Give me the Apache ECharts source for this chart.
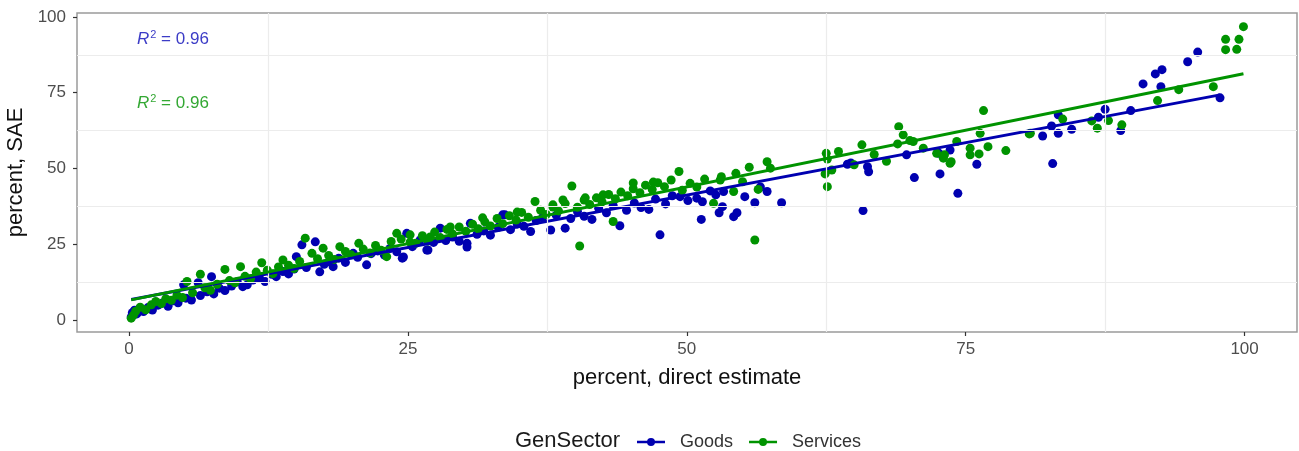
<!DOCTYPE html>
<html>
<head>
<meta charset="utf-8">
<script src="https://cdn.jsdelivr.net/npm/echarts@6/dist/echarts.min.js"></script>
<style>
  html, body { margin: 0; padding: 0; background: #fff; }
  #chart { width: 1299px; height: 451px; }
</style>
</head>
<body>
<div id="chart"></div>
<script>
// Share of establishments: direct survey estimate (x) vs small-area estimate (y), by sector.
const goodsPoints = [
  [0.2,1.0],[0.3,2.4],[0.4,1.8],[0.5,3.2],[0.7,2.0],[0.9,3.6],[1.3,2.8],[1.7,4.1],[2.1,3.3],[2.6,4.9],
  [3.0,5.6],[3.5,4.5],[3.9,6.3],[4.4,5.7],[4.9,11.6],[5.1,7.2],[5.6,6.6],[6.2,12.3],[6.4,8.1],[7.0,9.3],
  [7.4,14.3],[7.6,8.6],[8.1,10.5],[8.6,9.7],[9.2,11.2],[9.7,12.6],[10.2,11.0],[10.6,11.6],[11.1,13.2],[11.7,13.8],
  [12.2,12.7],[12.8,15.1],[13.2,14.3],[13.8,16.0],[14.3,15.2],[14.8,16.8],[15.0,20.9],[15.5,24.8],[15.9,17.3],[16.7,25.8],
  [17.1,15.9],[17.5,18.4],[18.0,19.2],[18.3,17.6],[18.8,20.4],[19.4,19.0],[20.1,22.0],[20.5,20.7],[21.3,18.2],[21.7,21.9],
  [22.3,22.8],[22.9,21.4],[23.4,23.6],[24.0,22.5],[24.5,20.4],[24.6,20.8],[24.9,28.6],[25.4,24.2],[26.1,26.4],[26.7,23.1],
  [26.8,23.1],[27.3,25.6],[27.9,30.3],[28.4,26.2],[29.0,27.4],[29.6,26.0],[30.3,25.3],[30.3,24.1],[30.6,31.9],[31.2,28.3],
  [31.8,29.4],[32.4,28.0],[33.1,30.6],[33.5,34.7],[33.7,34.7],[34.2,29.8],[34.8,31.7],[35.4,30.9],[36.0,29.2],[36.5,32.8],
  [37.1,33.9],[37.8,29.7],[38.3,34.6],[39.1,30.3],[39.6,33.5],[40.2,35.8],[40.8,34.2],[41.5,33.2],[42.1,36.9],[42.8,35.4],
  [43.4,37.8],[44.0,31.1],[44.6,36.2],[45.3,38.6],[45.9,37.1],[46.6,36.5],[47.2,39.9],[47.6,28.1],[48.1,38.3],[48.7,41.0],
  [49.4,40.7],[50.1,39.4],[50.9,40.2],[51.3,33.2],[51.4,39.0],[52.1,42.6],[52.6,41.3],[52.9,35.4],[53.2,37.4],[53.3,42.4],
  [54.2,34.1],[54.5,35.4],[55.2,40.7],[56.1,38.7],[56.6,43.9],[57.2,42.4],[58.5,38.7],[64.4,51.4],[64.7,51.8],[65.8,36.1],
  [66.2,50.6],[66.3,48.9],[69.7,54.5],[70.4,47.0],[72.6,55.0],[72.7,48.2],[73.6,56.1],[74.3,41.8],[76.0,51.4],[81.9,60.7],
  [82.7,64.0],[82.8,51.6],[83.3,67.7],[83.3,61.6],[84.5,62.9],[86.9,66.9],[87.5,69.5],[88.9,62.5],[89.8,69.1],[90.9,77.9],
  [92.0,81.2],[92.5,77.0],[92.6,82.6],[94.9,85.2],[95.8,88.4],[97.8,73.3]
];

const servicesPoints = [
  [0.2,0.6],[0.4,1.6],[0.6,2.9],[1.0,4.2],[1.5,3.4],[2.0,5.0],[2.4,6.1],[2.9,5.4],[3.3,7.0],[3.8,6.5],
  [4.3,8.2],[4.8,7.4],[5.2,12.7],[5.7,9.0],[6.4,15.1],[6.8,10.6],[7.3,9.8],[7.9,11.8],[8.6,16.7],[9.0,13.0],
  [9.5,12.3],[10.0,17.6],[10.4,14.4],[10.9,13.6],[11.4,15.8],[11.9,18.9],[12.4,16.4],[12.9,15.3],[13.4,17.5],[13.8,19.8],
  [14.3,18.1],[14.8,17.0],[15.3,19.3],[15.8,27.0],[16.4,22.0],[16.9,20.2],[17.4,23.7],[17.9,21.3],[18.4,20.0],[18.9,24.2],
  [19.4,22.6],[19.9,21.5],[20.6,25.3],[21.0,23.4],[21.6,22.1],[22.1,24.6],[22.6,23.0],[23.1,20.9],[23.5,25.9],[24.0,28.6],
  [24.4,26.7],[25.2,28.1],[25.2,25.7],[25.7,25.3],[26.3,27.8],[26.8,26.1],[27.0,27.4],[27.4,29.0],[27.9,27.2],[28.5,29.9],
  [28.8,30.7],[29.0,28.4],[29.6,30.7],[30.2,29.3],[30.8,31.6],[31.3,30.1],[31.7,33.7],[31.9,32.4],[32.4,31.0],[33.0,33.5],
  [33.5,31.8],[34.1,34.4],[34.7,33.0],[34.8,35.6],[35.2,35.5],[35.8,33.9],[36.4,39.1],[36.9,36.2],[37.4,34.8],[38.0,37.3],
  [38.0,38.0],[38.5,36.0],[38.9,39.6],[39.1,38.4],[39.7,44.2],[40.2,37.2],[40.4,24.4],[40.8,39.6],[40.9,40.3],[41.3,38.1],
  [41.9,40.3],[42.4,39.0],[42.5,41.3],[43.0,41.4],[43.4,32.5],[43.6,40.0],[44.1,42.2],[44.7,41.0],[45.2,43.3],[45.2,45.2],
  [45.8,42.0],[46.3,44.5],[46.9,43.1],[47.0,45.5],[47.4,45.3],[48.0,44.0],[48.6,46.2],[49.3,49.0],[49.6,42.8],[50.3,45.1],
  [50.9,43.9],[51.6,46.5],[52.4,38.5],[53.0,46.2],[53.1,47.3],[54.2,42.4],[54.4,48.4],[55.0,45.6],[55.6,50.4],[56.1,26.4],
  [56.4,43.1],[57.2,52.2],[57.5,50.1],[62.4,48.2],[62.5,55.0],[62.6,53.1],[62.6,44.0],[63.0,49.5],[63.6,55.6],[65.0,51.2],
  [65.7,57.8],[66.8,54.6],[67.9,52.4],[68.9,58.1],[69.0,63.8],[69.4,61.1],[70.0,59.2],[70.3,58.9],[71.2,56.7],[72.4,55.0],
  [73.0,53.4],[73.1,54.5],[73.6,51.7],[73.7,52.2],[74.2,58.9],[75.4,56.7],[75.4,54.5],[76.2,54.8],[76.3,61.6],[76.6,69.1],
  [77.0,57.2],[78.6,55.9],[80.7,61.4],[80.8,61.6],[83.7,66.3],[86.3,65.7],[86.8,63.3],[87.8,65.8],[89.0,64.4],[92.2,72.4],
  [94.1,76.0],[97.2,77.0],[98.3,92.6],[98.3,89.2],[99.3,89.3],[99.5,92.6],[99.9,96.8]
];

// Linear fits (intercept, slope) and fit quality per sector
const goodsFit = { intercept: 6.6, slope: 0.692 };
const servicesFit = { intercept: 6.5, slope: 0.748 };
const rSquaredLabels = ['0.96', '0.96'];

// Axis ticks and the lighter in-between grid positions
const tickValues = [0, 25, 50, 75, 100];
const gridValues = [12.5, 37.5, 62.5, 87.5];

const sectorNames = ['Goods', 'Services'];
const legendTitle = 'GenSector';

const COLORS = { Goods: '#0000b0', Services: '#009300' };
const FONT = '"Liberation Sans", Arial, Helvetica, sans-serif';

function fitLine(points, fit) {
  const xs = points.map(p => p[0]);
  const x0 = Math.min(...xs), x1 = Math.max(...xs);
  return [[x0, fit.intercept + fit.slope * x0], [x1, fit.intercept + fit.slope * x1]];
}

function rLabel(value, color) {
  return {
    text: '{i|R}{s|2}{n| = ' + value + '}',
    rich: {
      i: { fontStyle: 'italic', fontSize: 17, fontFamily: FONT, fill: color },
      s: { fontSize: 11, fontFamily: FONT, fill: color, verticalAlign: 'top', padding: [0, 0, 9, 1] },
      n: { fontSize: 17, fontFamily: FONT, fill: color }
    }
  };
}

const legendIcon = 'path://M0,2.7H28V5.3H0Z M10,4A4,4 0 1 1 18,4A4,4 0 1 1 10,4Z';

const chart = echarts.init(document.getElementById('chart'), null, { renderer: 'canvas' });

const axisCommon = {
  type: 'value',
  splitLine: { show: false },
  axisLine: { show: false, onZero: false },
  axisTick: { show: true, customValues: tickValues, length: 4, lineStyle: { color: '#333', width: 1.2 } },
  axisLabel: { customValues: tickValues, color: '#4d4d4d', fontSize: 17, fontFamily: FONT },
  nameLocation: 'middle',
  nameTextStyle: { color: '#111', fontSize: 22, fontFamily: FONT }
};

chart.setOption({
  animation: false,
  backgroundColor: '#fff',
  grid: {
    left: 77, top: 13, right: 2, bottom: 119,
    containLabel: false, outerBoundsMode: 'none',
    show: true, borderColor: '#9a9a9a', borderWidth: 1.5, backgroundColor: 'transparent'
  },
  xAxis: Object.assign({}, axisCommon, {
    min: -4.66, max: 104.7,
    name: 'percent, direct estimate', nameGap: 35,
    axisLabel: Object.assign({}, axisCommon.axisLabel, { margin: 9 })
  }),
  yAxis: Object.assign({}, axisCommon, {
    min: -3.96, max: 101.3,
    name: 'percent, SAE', nameGap: 44,
    axisLabel: Object.assign({}, axisCommon.axisLabel, { margin: 11 })
  }),
  legend: {
    data: sectorNames.map(n => ({ name: n, icon: legendIcon })),
    left: 637, top: 433, padding: 0,
    itemWidth: 28, itemHeight: 8, itemGap: 16,
    textStyle: { color: '#333', fontSize: 18, fontFamily: FONT, padding: [0, 0, 0, 10] },
    selectedMode: false
  },
  graphic: [
    { type: 'text', left: 515, top: 430, style: { text: legendTitle, fill: '#1a1a1a', font: '22px ' + FONT } },
    { type: 'text', left: 137, top: 29, style: rLabel(rSquaredLabels[0], '#3c3cc6') },
    { type: 'text', left: 137, top: 93, style: rLabel(rSquaredLabels[1], '#33a833') }
  ],
  series: [
    {
      name: 'grid', type: 'scatter', data: [], z: 0, silent: true,
      markLine: {
        silent: true, symbol: 'none', label: { show: false }, animation: false,
        lineStyle: { color: '#ececec', width: 1.2, type: 'solid' },
        data: gridValues.map(v => ({ xAxis: v })).concat(gridValues.map(v => ({ yAxis: v })))
      }
    },
    {
      name: 'Goods', type: 'scatter', data: goodsPoints, symbolSize: 9, z: 2,
      itemStyle: { color: COLORS.Goods, opacity: 1 }
    },
    {
      name: 'Services', type: 'scatter', data: servicesPoints, symbolSize: 9, z: 3,
      itemStyle: { color: COLORS.Services, opacity: 1 }
    },
    {
      name: 'Goods', type: 'line', data: fitLine(goodsPoints, goodsFit), showSymbol: false, z: 4,
      lineStyle: { color: COLORS.Goods, width: 3 }, itemStyle: { color: COLORS.Goods }
    },
    {
      name: 'Services', type: 'line', data: fitLine(servicesPoints, servicesFit), showSymbol: false, z: 5,
      lineStyle: { color: COLORS.Services, width: 3 }, itemStyle: { color: COLORS.Services }
    }
  ]
});
</script>
</body>
</html>
